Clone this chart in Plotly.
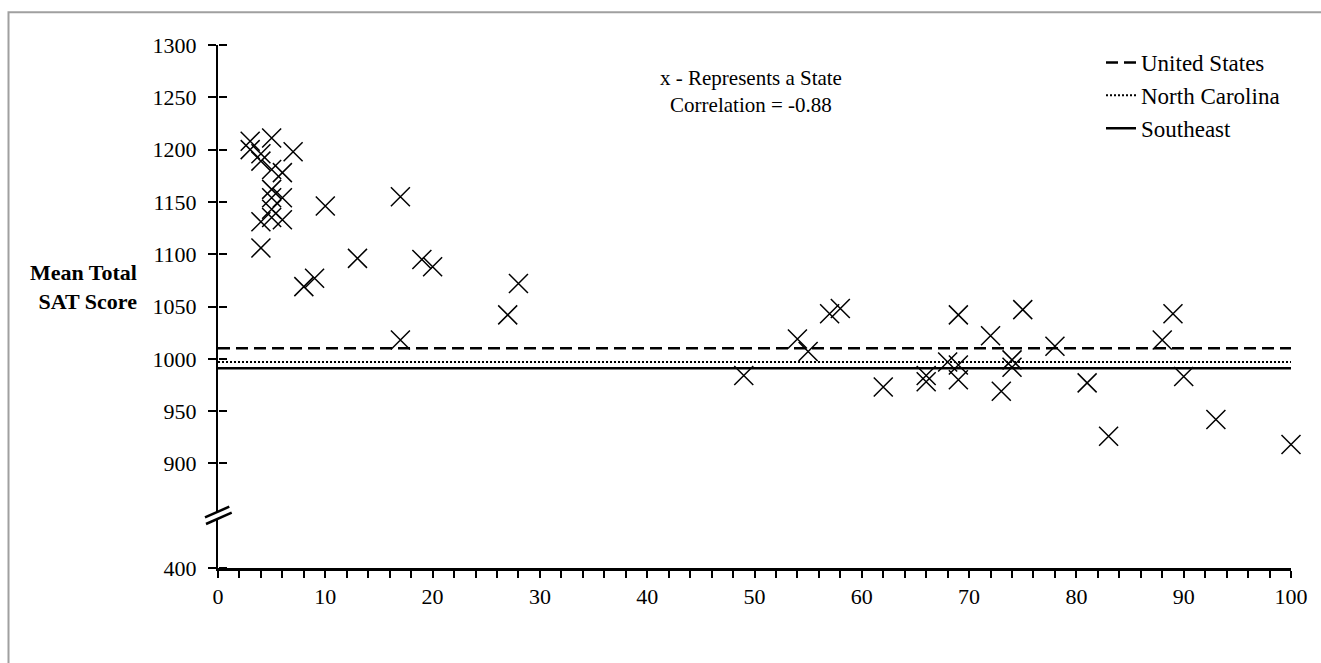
import plotly.graph_objects as go

# ---------------- data ----------------
state_pct = [3, 5, 3, 4, 7, 4, 5, 6, 5, 5, 6, 5, 4, 5, 6, 4,
             8, 9, 10, 13, 17, 19, 20, 28, 27, 17,
             49, 54, 55, 57, 58, 62, 66, 66, 68, 69, 69, 69, 72, 73, 74, 74,
             75, 78, 81, 83, 88, 89, 90, 93, 100]
state_sat = [1208, 1211, 1200, 1196, 1198, 1189, 1181, 1178, 1162, 1154, 1154, 1143, 1131, 1135, 1133, 1106,
             1069, 1077, 1146, 1096, 1155, 1095, 1088, 1072, 1042, 1018,
             984, 1019, 1007, 1043, 1048, 973, 984, 978, 997, 994, 980, 1042, 1022, 969, 999, 992,
             1047, 1012, 977, 926, 1018, 1043, 983, 942, 918]

ref_names = ["United States", "North Carolina", "Southeast"]
ref_values = [1010, 997, 991]
ref_dash = ["12px,6px", "2px,2px", "solid"]
ref_width = [2.5, 2, 2.5]

x_range = [0, 100]
ytick_vals = [800, 900, 950, 1000, 1050, 1100, 1150, 1200, 1250, 1300]
ytick_text = ["400", "900", "950", "1000", "1050", "1100", "1150", "1200", "1250", "1300"]

# ---------------- layout geometry ----------------
W, H = 1321, 663
L, R, T, B = 218, 30, 45, 95
PW, PH = W - L - R, H - T - B


def xp(px):
    return (px - L) / PW


def yp(py):
    return (H - B - py) / PH


FONT = "Liberation Serif, Times New Roman, serif"

fig = go.Figure()

# reference lines (on the overlay axis, which shares the same range and carries the right-pointing ticks)
for name, val, dash, w in zip(ref_names, ref_values, ref_dash, ref_width):
    fig.add_trace(go.Scatter(
        x=x_range, y=[val, val], mode="lines", name=name, yaxis="y2",
        line=dict(color="black", dash=dash, width=w),
        legendgroup=name, hoverinfo="skip"))

# states
fig.add_trace(go.Scatter(
    x=state_pct, y=state_sat, mode="markers", name="State", showlegend=False, cliponaxis=False,
    marker=dict(symbol="x-thin", size=19, line=dict(color="black", width=1.5), color="black")))

shapes = [
    # outer frame
    dict(type="rect", xref="paper", yref="paper", x0=xp(8.5), x1=xp(1360), y0=yp(720), y1=yp(12.3),
         line=dict(color="#a0a0a0", width=2), fillcolor="rgba(0,0,0,0)", layer="above"),
    # axis break: white gap
    dict(type="path", xref="paper", yref="paper",
         path=f"M{xp(204)},{yp(517.8)} L{xp(230)},{yp(506.2)} L{xp(232.5)},{yp(513.2)} L{xp(205)},{yp(524.6)} Z",
         fillcolor="white", line=dict(width=0), layer="above"),
    dict(type="line", xref="paper", yref="paper", x0=xp(205), y0=yp(517.3), x1=xp(229.3), y1=yp(506.7),
         line=dict(color="black", width=2.5), layer="above"),
    dict(type="line", xref="paper", yref="paper", x0=xp(206), y0=yp(524), x1=xp(231.7), y1=yp(512.7),
         line=dict(color="black", width=2.5), layer="above"),
]

annotations = [
    dict(text="x - Represents a State<br>Correlation = -0.88", x=49.7, y=1256, xref="x", yref="y",
         showarrow=False, font=dict(family=FONT, size=21, color="black"), align="center",
         xanchor="center", yanchor="middle"),
    dict(text="<b>Mean Total<br>SAT Score</b>", x=xp(139), y=1068.6, xref="paper", yref="y",
         showarrow=False, font=dict(family=FONT, size=22, color="black"), align="right",
         xanchor="right", yanchor="middle"),
]

fig.update_layout(
    width=W, height=H,
    margin=dict(l=L, r=R, t=T, b=B, pad=0),
    paper_bgcolor="white", plot_bgcolor="white",
    font=dict(family=FONT, size=22, color="black"),
    showlegend=True,
    legend=dict(x=xp(1101), y=yp(41), xanchor="left", yanchor="top",
                bgcolor="rgba(0,0,0,0)", font=dict(family=FONT, size=23, color="black"),
                traceorder="grouped", tracegroupgap=0, itemwidth=30),
    xaxis=dict(range=x_range, dtick=10, tick0=0, showgrid=False, zeroline=False,
               showline=True, linecolor="black", linewidth=3,
               ticks="outside", ticklen=7, tickwidth=2, tickcolor="black",
               minor=dict(dtick=2, ticks="outside", ticklen=7, tickwidth=1.5, tickcolor="black"),
               tickfont=dict(family=FONT, size=22, color="black")),
    yaxis=dict(range=[800, 1300], tickvals=ytick_vals, ticktext=ytick_text,
               showgrid=False, zeroline=False, showline=True, linecolor="black", linewidth=2,
               ticks="outside", ticklen=8, tickwidth=2, tickcolor="black",
               ticklabelstandoff=7,
               tickfont=dict(family=FONT, size=22, color="black")),
    yaxis2=dict(range=[800, 1300], tickvals=ytick_vals, overlaying="y", anchor="free", position=0,
                side="right", showgrid=False, zeroline=False, showline=False, showticklabels=False,
                ticks="outside", ticklen=8, tickwidth=2, tickcolor="black"),
    shapes=shapes,
    annotations=annotations,
)

fig.write_html("out.html", config={"displayModeBar": False},
               post_script="document.body.style.margin='0';")
